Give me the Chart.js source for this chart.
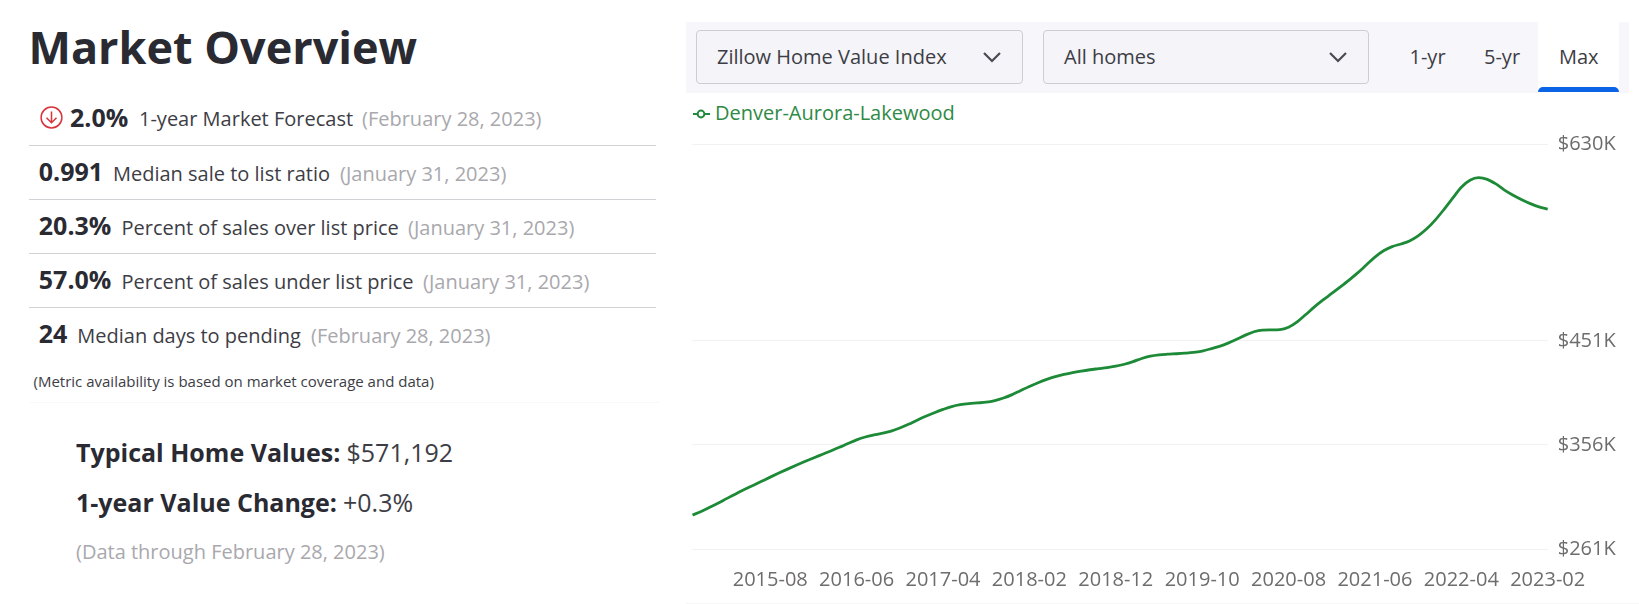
<!DOCTYPE html>
<html><head><meta charset="utf-8">
<script src="https://cdn.jsdelivr.net/npm/chart.js@4"></script>
<style>
html,body{margin:0;padding:0;background:#fff;width:1639px;height:604px;overflow:hidden;font-family:"Open Sans",sans-serif}
.t{position:absolute;white-space:nowrap;line-height:40px;height:40px;left:calc(var(--x)*1px);top:calc((var(--b) - 20 - .388*var(--s))*1px);font-size:calc(var(--s)*1px);color:#3d3d45}
.b{font-weight:700;color:#2a2a33}.g{color:#a9a8ad}
.r{position:absolute;left:29px;width:627px;height:1px;background:#d2d2d6}
.box{position:absolute}
.sel{position:absolute;top:30px;height:52px;background:#f4f4f9;border:1px solid #cdcdd3;border-radius:4px;box-sizing:content-box}
canvas{position:absolute;left:650px;top:110px}
</style></head><body>
<div class="t b" style="--x:28.5;--b:64;--s:45">Market Overview</div>
<svg class="box" style="left:40px;top:106px" width="23" height="23" viewBox="0 0 23 23" fill="none" stroke="#d8343c" stroke-width="1.5"><circle cx="11.5" cy="11.5" r="10.4"/><path d="M11.5 5.5V16.5M6.5 11.8L11.5 16.8L16.5 11.8"/></svg>
<div class="t b" style="--x:70;--b:126.5;--s:25">2.0%</div>
<div class="t" style="--x:139;--b:127;--s:20">1-year Market Forecast</div>
<div class="t g" style="--x:362;--b:127;--s:20">(February 28, 2023)</div>
<div class="r" style="top:145px"></div>
<div class="t b" style="--x:38.8;--b:181;--s:25">0.991</div>
<div class="t" style="--x:113;--b:181.5;--s:20">Median sale to list ratio</div>
<div class="t g" style="--x:340;--b:181.5;--s:20">(January 31, 2023)</div>
<div class="r" style="top:199px"></div>
<div class="t b" style="--x:38.8;--b:235;--s:25">20.3%</div>
<div class="t" style="--x:121.5;--b:235.5;--s:20">Percent of sales over list price</div>
<div class="t g" style="--x:408;--b:235.5;--s:20">(January 31, 2023)</div>
<div class="r" style="top:253px"></div>
<div class="t b" style="--x:38.8;--b:289;--s:25">57.0%</div>
<div class="t" style="--x:121.5;--b:289.5;--s:20">Percent of sales under list price</div>
<div class="t g" style="--x:423;--b:289.5;--s:20">(January 31, 2023)</div>
<div class="r" style="top:307px"></div>
<div class="t b" style="--x:38.8;--b:343;--s:25">24</div>
<div class="t" style="--x:77.3;--b:343.5;--s:20">Median days to pending</div>
<div class="t g" style="--x:311;--b:343.5;--s:20">(February 28, 2023)</div>
<div class="t" style="--x:33.5;--b:386.5;--s:15">(Metric availability is based on market coverage and data)</div>
<div class="box" style="left:30px;top:402px;width:630px;height:1px;background:#f8f8f9"></div>
<div class="t b" style="--x:76;--b:461.5;--s:25">Typical Home Values:</div>
<div class="t" style="--x:346.5;--b:461.5;--s:25">$571,192</div>
<div class="t b" style="--x:76;--b:511.5;--s:25">1-year Value Change:</div>
<div class="t" style="--x:343;--b:511.5;--s:25">+0.3%</div>
<div class="t g" style="--x:76;--b:560;--s:20">(Data through February 28, 2023)</div>

<div class="box" style="left:686px;top:22px;width:943px;height:71px;background:#f7f7fb"></div>
<div class="sel" style="left:696px;width:325px"></div>
<div class="sel" style="left:1043px;width:324px"></div>
<div class="t" style="--x:717;--b:64.5;--s:20">Zillow Home Value Index</div>
<div class="t" style="--x:1064;--b:64.5;--s:20">All homes</div>
<svg class="box" style="left:982px;top:50px" width="20" height="14" fill="none" stroke="#4a4a52" stroke-width="2.2"><path d="M2 3L10 11L18 3"/></svg>
<svg class="box" style="left:1328px;top:50px" width="20" height="14" fill="none" stroke="#4a4a52" stroke-width="2.2"><path d="M2 3L10 11L18 3"/></svg>
<div class="box" style="left:1538px;top:22px;width:81px;height:71px;background:#fff"></div>
<div class="box" style="left:1538px;top:87px;width:81px;height:5px;background:#0b63e5;border-radius:5px 5px 0 0"></div>
<div class="t" style="--x:1409.5;--b:64.5;--s:20">1-yr</div>
<div class="t" style="--x:1484;--b:64.5;--s:20">5-yr</div>
<div class="t" style="--x:1559;--b:64.5;--s:20">Max</div>
<svg class="box" style="left:692px;top:108px" width="19" height="12" fill="none" stroke="#1f8a3b" stroke-width="2"><path d="M1 6H5M13 6H18"/><circle cx="9" cy="6" r="3.4"/></svg>
<div class="t" style="--x:715;--b:120.7;--s:20;color:#2f8a45">Denver-Aurora-Lakewood</div>
<div class="box" style="left:686px;top:603px;width:953px;height:1px;background:#f6f6f8"></div>
<canvas id="c" width="989" height="494" style="width:989px;height:494px"></canvas>
<script>
const months = [
"2014-11","2014-12",
"2015-01","2015-02","2015-03","2015-04","2015-05","2015-06","2015-07","2015-08","2015-09","2015-10","2015-11","2015-12",
"2016-01","2016-02","2016-03","2016-04","2016-05","2016-06","2016-07","2016-08","2016-09","2016-10","2016-11","2016-12",
"2017-01","2017-02","2017-03","2017-04","2017-05","2017-06","2017-07","2017-08","2017-09","2017-10","2017-11","2017-12",
"2018-01","2018-02","2018-03","2018-04","2018-05","2018-06","2018-07","2018-08","2018-09","2018-10","2018-11","2018-12",
"2019-01","2019-02","2019-03","2019-04","2019-05","2019-06","2019-07","2019-08","2019-09","2019-10","2019-11","2019-12",
"2020-01","2020-02","2020-03","2020-04","2020-05","2020-06","2020-07","2020-08","2020-09","2020-10","2020-11","2020-12",
"2021-01","2021-02","2021-03","2021-04","2021-05","2021-06","2021-07","2021-08","2021-09","2021-10","2021-11","2021-12",
"2022-01","2022-02","2022-03","2022-04","2022-05","2022-06","2022-07","2022-08","2022-09","2022-10","2022-11","2022-12",
"2023-01","2023-02"];
const homeValues = [
292.0,295.2,299.0,303.0,307.2,311.3,315.2,319.0,322.8,326.6,330.3,333.9,337.4,340.8,344.1,347.3,350.5,353.8,357.3,360.6,
363.2,365.1,366.7,368.6,371.4,374.8,378.5,382.1,385.4,388.4,391.0,392.7,393.7,394.3,395.0,396.5,398.8,401.9,405.7,409.4,
412.8,415.8,418.3,420.3,422.0,423.4,424.6,425.6,426.6,427.8,429.6,432.0,434.9,437.0,438.2,438.8,439.2,439.7,440.4,441.7,
443.7,446.0,448.9,452.4,456.2,459.3,460.8,461.0,461.2,463.4,468.3,475.0,482.0,488.3,494.2,500.2,506.4,513.0,520.2,527.4,
533.2,537.0,539.4,542.2,546.8,553.2,561.4,571.0,581.2,591.2,597.6,599.9,598.4,594.2,588.6,583.9,579.8,576.2,573.2,571.2];
const xTickLabels = ["2015-08","2016-06","2017-04","2018-02","2018-12","2019-10","2020-08","2021-06","2022-04","2023-02"];
const yTickValues = [261,356,451,630];
const seriesName = "Denver-Aurora-Lakewood";

new Chart(document.getElementById('c'), {
  type:'line',
  data:{labels:months,datasets:[{label:seriesName,data:homeValues,borderColor:'#1c8a37',borderWidth:2.8,pointRadius:0,cubicInterpolationMode:'monotone',fill:false}]},
  options:{
    responsive:false,animation:false,devicePixelRatio:1,
    layout:{padding:{left:42.5,top:34.7,right:0,bottom:0}},
    plugins:{legend:{display:false},tooltip:{enabled:false}},
    scales:{
      x:{type:'category',offset:false,grid:{display:false},border:{display:false},
        afterFit(s){s.height=55;s.paddingLeft=0;s.paddingRight=0},
        ticks:{autoSkip:false,maxRotation:0,minRotation:0,padding:11,color:'#6e6c6c',font:{family:'"Open Sans"',size:20},
          callback(v){const l=this.getLabelForValue(v);return xTickLabels.includes(l)?l:''}}},
      y:{type:'linear',position:'right',min:261,max:630,border:{display:false},
        grid:{color:'#f1f1f4',lineWidth:1,drawTicks:false},
        afterFit(s){s.width=91.3;s.paddingTop=0;s.paddingBottom=0},
        afterBuildTicks(s){s.ticks=yTickValues.map(v=>({value:v}))},
        ticks:{padding:10,color:'#6e6c6c',font:{family:'"Open Sans"',size:20},callback(v){return '$'+v+'K'}}}
    }
  }
});
</script>
</body></html>
